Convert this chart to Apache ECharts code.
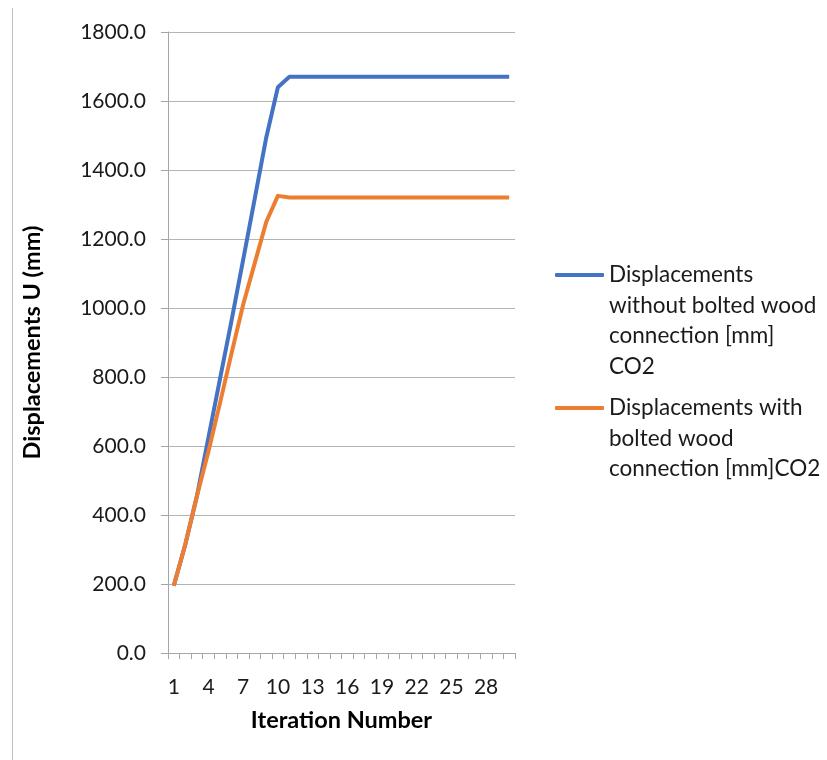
<!DOCTYPE html>
<html>
<head>
<meta charset="utf-8">
<script src="https://cdn.jsdelivr.net/npm/echarts@6/dist/echarts.min.js"></script>
<style>html,body{margin:0;padding:0;background:#fff}#c{width:827px;height:760px}</style>
</head>
<body>
<div id="c"></div>
<script>
const categories = [];
for (let i = 1; i <= 30; i++) categories.push(String(i));
const withoutBolted = [195, 315, 455, 625, 795, 965, 1140, 1317, 1495, 1640,
  1670, 1670, 1670, 1670, 1670, 1670, 1670, 1670, 1670, 1670,
  1670, 1670, 1670, 1670, 1670, 1670, 1670, 1670, 1670, 1670];
const withBolted = [195, 315, 455, 585, 725, 870, 1010, 1130, 1250, 1325,
  1320, 1320, 1320, 1320, 1320, 1320, 1320, 1320, 1320, 1320,
  1320, 1320, 1320, 1320, 1320, 1320, 1320, 1320, 1320, 1320];
const seriesNames = ['Displacements\nwithout bolted wood\nconnection [mm]\nCO2',
  'Displacements with\nbolted wood\nconnection [mm]CO2'];
const seriesColors = ['#4472C4', '#ED7D31'];
const yAxisName = 'Displacements U (mm)';
const xAxisName = 'Iteration Number';

const FONT = 'Lato';
const LH = 30.5;
const iconY = [275, 408];

function legendFor(idx) {
  const n = seriesNames[idx].split('\n').length;
  return {
    orient: 'vertical', left: 555, top: iconY[idx] - (n - 0.5) * LH, padding: 0,
    itemWidth: 49, itemHeight: 4, icon: 'roundRect',
    textStyle: { fontFamily: FONT, fontSize: 22.5, color: '#1a1a1a', lineHeight: LH },
    formatter: name => '\n'.repeat(n - 1) + name,
    data: [{ name: seriesNames[idx], icon: 'roundRect', itemStyle: { color: seriesColors[idx] } }]
  };
}

const chart = echarts.init(document.getElementById('c'));
chart.setOption({
  animation: false,
  textStyle: { fontFamily: FONT },
  grid: { left: 168, right: 312, top: 32, bottom: 107, containLabel: false },
  graphic: [{
    type: 'line', shape: { x1: 12.5, y1: 8, x2: 12.5, y2: 760 },
    style: { stroke: '#bfbfbf', lineWidth: 1 }
  }],
  legend: [legendFor(0), legendFor(1)],
  xAxis: {
    type: 'category', data: categories, boundaryGap: true,
    name: xAxisName, nameLocation: 'middle', nameGap: 55,
    nameTextStyle: { fontFamily: FONT, fontSize: 23.5, fontWeight: 'bold', color: '#000' },
    axisLine: { lineStyle: { color: '#a6a6a6', width: 1 } },
    axisTick: { show: true, interval: 0, length: 6, lineStyle: { color: '#a6a6a6' } },
    axisLabel: { interval: 2, margin: 24, fontSize: 21, color: '#1a1a1a', fontFamily: FONT },
    splitLine: { show: false }
  },
  yAxis: {
    type: 'value', min: 0, max: 1800, interval: 200,
    name: yAxisName, nameLocation: 'middle', nameGap: 124,
    nameTextStyle: { fontFamily: FONT, fontSize: 23.5, fontWeight: 'bold', color: '#000' },
    axisLine: { show: true, lineStyle: { color: '#a6a6a6', width: 1 } },
    axisTick: { show: true, length: 7, lineStyle: { color: '#a6a6a6' } },
    axisLabel: { margin: 22, fontSize: 21, color: '#1a1a1a', fontFamily: FONT,
      formatter: v => v.toFixed(1) },
    splitLine: { lineStyle: { color: '#b3b3b3', width: 1 } }
  },
  series: [
    { name: seriesNames[0], type: 'line', data: withoutBolted, symbol: 'none',
      lineStyle: { color: seriesColors[0], width: 4, join: 'round' }, itemStyle: { color: seriesColors[0] } },
    { name: seriesNames[1], type: 'line', data: withBolted, symbol: 'none',
      lineStyle: { color: seriesColors[1], width: 4, join: 'round' }, itemStyle: { color: seriesColors[1] } }
  ]
});
</script>
</body>
</html>
